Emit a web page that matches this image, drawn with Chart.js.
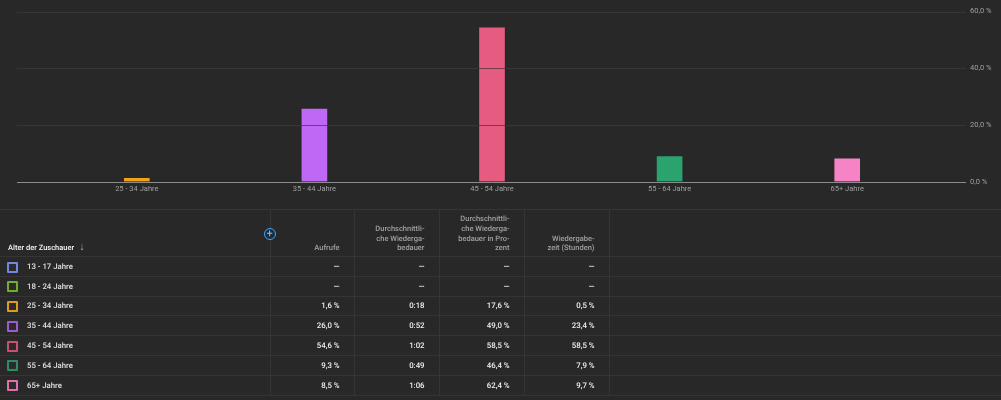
<!DOCTYPE html>
<html>
<head>
<meta charset="utf-8">
<script src="https://cdn.jsdelivr.net/npm/chart.js@4"></script>
<style>
html, body { margin: 0; padding: 0; background: #282828; overflow: hidden; }
body { width: 1001px; height: 400px; position: relative; font-family: Roboto, sans-serif; text-rendering: geometricPrecision; }
#chartAge { position: absolute; left: 0; top: 0; }
table { position: absolute; left: 0; top: 209px; width: 1001px; table-layout: fixed; border-collapse: collapse; border-top: 1px solid #353535; font-size: 7.8px; will-change: transform; }
th, td { border-bottom: 1px solid #353535; padding: 0; text-align: right; box-sizing: border-box; }
th { height: 47px; vertical-align: bottom; padding-bottom: 3px; color: #a0a0a0; font-weight: 500; font-size: 7.5px; line-height: 9.7px; padding-right: 14.5px; }
td { height: 19.8px; color: #f0f0f0; font-weight: 500; padding-right: 14.5px; }
.sep { border-left: 1px solid #353535; }
th:first-child, td:first-child { text-align: left; padding-right: 0; }
th:first-child { color: #f4f4f4; padding-left: 8px; }
td:first-child { padding-left: 27px; position: relative; color: #e0e0e0; }
.box { position: absolute; left: 7px; top: 4.5px; width: 11px; height: 11px; box-sizing: border-box; border: 2px solid; border-radius: 1px; background: #2b2b2b; }
.arrow { margin-left: 5px; color: #a0a0a0; font-weight: 400; font-size: 11px; line-height: 8px; }
#plus { position: absolute; left: 263.5px; top: 227.5px; width: 12px; height: 12px; box-sizing: border-box; border: 1px solid #3ea6ff; border-radius: 50%; background: #1c2c3a; color: #7cc4ff; font-size: 11px; line-height: 9px; text-align: center; }
</style>
</head>
<body>
<canvas id="chartAge" width="1001" height="205"></canvas>
<table id="tableAge"></table>
<div id="plus">+</div>
<script>
// Daten
const ageGroups = ['13 - 17 Jahre', '18 - 24 Jahre', '25 - 34 Jahre', '35 - 44 Jahre', '45 - 54 Jahre', '55 - 64 Jahre', '65+ Jahre'];
const views = [null, null, 1.6, 26.0, 54.6, 9.3, 8.5];
const avgDuration = ['—', '—', '0:18', '0:52', '1:02', '0:49', '1:06'];
const avgPercent = ['—', '—', '17,6 %', '49,0 %', '58,5 %', '46,4 %', '62,4 %'];
const watchTime = ['—', '—', '0,5 %', '23,4 %', '58,5 %', '7,9 %', '9,7 %'];
const barColors = ['#7b8fe8', '#7fb52e', '#f2a31b', '#bf68f5', '#e65c80', '#2aa36f', '#f783c7'];
const boxColors = ['#7486e0', '#74ad2e', '#e09a1e', '#a05ad0', '#c9506f', '#2f8c64', '#e070ac'];
const yTicks = [0, 20, 40, 60];
const headers = ['Aufrufe', 'Durchschnittli-<br>che Wiederga-<br>bedauer', 'Durchschnittli-<br>che Wiederga-<br>bedauer in Pro-<br>zent', 'Wiedergabe-<br>zeit (Stunden)'];

const formatPercent = (v) => v.toFixed(1).replace('.', ',') + ' %';

// Nur Altersgruppen mit Werten kommen ins Diagramm
const shown = ageGroups.map((_, i) => i).filter((i) => views[i] !== null);

// Gitterlinien laufen breiter als die Kategorien, deshalb von Hand
const gridPlugin = {
    id: 'ageGrid',
    beforeDatasetsDraw(chart) {
        const c = chart.ctx;
        const y = chart.scales.y;
        c.save();
        yTicks.forEach((t) => {
            const py = Math.round(y.getPixelForValue(t)) + 0.5;
            c.strokeStyle = t === 0 ? '#8c8c8c' : '#363636';
            c.lineWidth = 1;
            c.beginPath();
            c.moveTo(17, py);
            c.lineTo(966, py);
            c.stroke();
        });
        c.restore();
    },
    afterDatasetsDraw(chart) {
        // dunkle Linie innerhalb der Balken
        const c = chart.ctx;
        const y = chart.scales.y;
        c.save();
        chart.getDatasetMeta(0).data.forEach((bar, i) => {
            yTicks.forEach((t) => {
                if (t === 0 || t >= views[shown[i]]) return;
                const py = Math.round(y.getPixelForValue(t)) + 0.5;
                c.strokeStyle = 'rgba(40,40,40,0.6)';
                c.beginPath();
                c.moveTo(bar.x - bar.width / 2, py);
                c.lineTo(bar.x + bar.width / 2, py);
                c.stroke();
            });
        });
        c.restore();
    }
};

const ctx = document.getElementById('chartAge').getContext('2d');
new Chart(ctx, {
    type: 'bar',
    data: {
        labels: shown.map((i) => ageGroups[i]),
        datasets: [{
            data: shown.map((i) => views[i]),
            backgroundColor: shown.map((i) => barColors[i]),
            borderColor: 'rgba(40,40,40,0.2)',
            borderWidth: 1,
            barThickness: 27
        }]
    },
    options: {
        responsive: false,
        animation: false,
        layout: { padding: { left: 48, top: 11.5, right: 0, bottom: 0 } },
        plugins: { legend: { display: false }, tooltip: { enabled: false } },
        scales: {
            x: {
                grid: { display: false, drawTicks: false },
                border: { display: false },
                ticks: { color: '#a0a0a0', font: { family: 'Roboto', size: 7.5 }, padding: 3, maxRotation: 0 },
                afterFit(scale) { scale.height = 23; }
            },
            y: {
                position: 'right',
                min: 0,
                max: 60,
                // tickLength statt ticks.padding, sonst schrumpft die Plotflaeche
                grid: { drawOnChartArea: false, tickColor: 'transparent', tickLength: 34 },
                border: { display: false },
                afterBuildTicks(scale) { scale.ticks = yTicks.map((value) => ({ value })); },
                ticks: {
                    color: '#a0a0a0',
                    font: { family: 'Roboto', size: 7.5 },
                    padding: 0,
                    callback: (v) => formatPercent(v)
                },
                afterFit(scale) { scale.width = 65; }
            }
        }
    },
    plugins: [gridPlugin]
});

// Tabelle darunter
const cols = [views.map((v) => v === null ? '—' : formatPercent(v)), avgDuration, avgPercent, watchTime];
let html = '<colgroup><col style="width:270px"><col style="width:84.5px"><col style="width:85px"><col style="width:85px"><col style="width:85px"><col></colgroup>';
html += '<tr><th>Alter der Zuschauer<span class="arrow">↓</span></th>';
headers.forEach((h) => { html += '<th class="sep">' + h + '</th>'; });
html += '<th class="sep"></th></tr>';
ageGroups.forEach((g, i) => {
    html += '<tr><td><span class="box" style="border-color:' + boxColors[i] + '"></span>' + g + '</td>';
    cols.forEach((col) => { html += '<td class="sep">' + col[i] + '</td>'; });
    html += '<td class="sep"></td></tr>';
});
document.getElementById('tableAge').innerHTML = html;
</script>
</body>
</html>
